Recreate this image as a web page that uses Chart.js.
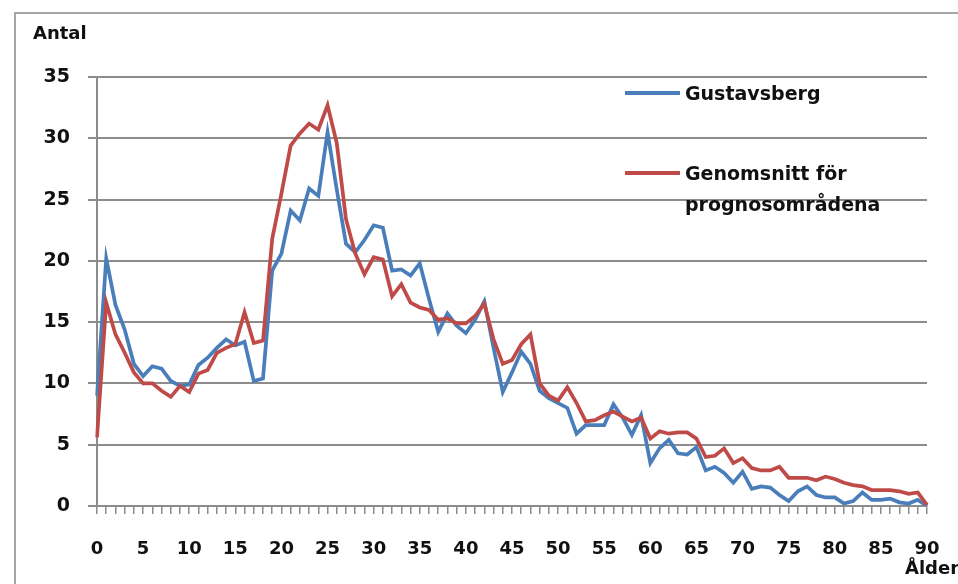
<!DOCTYPE html>
<html>
<head>
<meta charset="utf-8">
<script src="https://cdn.jsdelivr.net/npm/chart.js@4"></script>
<style>
  html, body { margin: 0; padding: 0; background: #fff; overflow: hidden; }
  #wrap { position: relative; width: 958px; height: 584px; overflow: hidden; }
  #frame { position: absolute; left: 14px; top: 12px; width: 960px; height: 600px;
           border-left: 2px solid #a6a6a6; border-top: 2px solid #a6a6a6; }
  canvas { position: absolute; left: 0; top: 0; }
  .txt { position: absolute; font-family: "DejaVu Sans", sans-serif; font-weight: bold; color: #111; white-space: nowrap; }
  #ytitle { left: 33px; top: 22px; font-size: 18px; }
  #xtitle { left: 905px; top: 557px; font-size: 18px; }
  #legend .item { position: absolute; left: 625px; }
  #legend .sw { position: absolute; left: 0; width: 55px; height: 4px; }
  #legend .lb { position: absolute; left: 60px; font-family: "DejaVu Sans", sans-serif; font-weight: bold;
                font-size: 19px; line-height: 31px; color: #111; white-space: nowrap; }
</style>
</head>
<body>
<div id="wrap">
  <div id="frame"></div>
  <canvas id="c" width="958" height="584"></canvas>
  <div class="txt" id="ytitle">Antal</div>
  <div class="txt" id="xtitle">Ålder</div>
  <div id="legend"></div>
</div>
<script>
// ---- data ----
const ages = [];
for (let a = 0; a <= 90; a++) ages.push(String(a));

const gustavsberg = [
  9.0, 20.2, 16.4, 14.4, 11.6, 10.6, 11.4, 11.2, 10.2, 9.8,
  9.9, 11.5, 12.1, 12.9, 13.6, 13.1, 13.4, 10.2, 10.4, 19.2,
  20.6, 24.1, 23.3, 25.9, 25.3, 30.5, 25.8, 21.4, 20.7, 21.7,
  22.9, 22.7, 19.2, 19.3, 18.8, 19.8, 16.9, 14.2, 15.7, 14.7,
  14.1, 15.2, 16.7, 12.9, 9.3, 10.9, 12.6, 11.6, 9.4, 8.8,
  8.4, 8.0, 5.9, 6.6, 6.6, 6.6, 8.3, 7.2, 5.8, 7.4,
  3.5, 4.7, 5.4, 4.3, 4.2, 4.8, 2.9, 3.2, 2.7, 1.9,
  2.8, 1.4, 1.6, 1.5, 0.9, 0.4, 1.2, 1.6, 0.9, 0.7,
  0.7, 0.2, 0.4, 1.1, 0.5, 0.5, 0.6, 0.3, 0.2, 0.5,
  0.0
];

const genomsnitt = [
  5.6, 16.6, 14.0, 12.5, 10.9, 10.0, 10.0, 9.4, 8.9, 9.8,
  9.3, 10.8, 11.1, 12.5, 12.9, 13.2, 15.8, 13.3, 13.5, 21.8,
  25.5, 29.4, 30.4, 31.2, 30.7, 32.7, 29.6, 23.4, 20.6, 18.9,
  20.3, 20.1, 17.1, 18.1, 16.6, 16.2, 16.0, 15.2, 15.3, 14.9,
  14.9, 15.5, 16.5, 13.6, 11.6, 11.9, 13.2, 14.0, 10.0, 9.0,
  8.6, 9.7, 8.4, 6.9, 7.0, 7.4, 7.7, 7.3, 6.9, 7.2,
  5.5, 6.1, 5.9, 6.0, 6.0, 5.5, 4.0, 4.1, 4.7, 3.5,
  3.9, 3.1, 2.9, 2.9, 3.2, 2.3, 2.3, 2.3, 2.1, 2.4,
  2.2, 1.9, 1.7, 1.6, 1.3, 1.3, 1.3, 1.2, 1.0, 1.1,
  0.1
];

const seriesLabels = ['Gustavsberg', 'Genomsnitt för\nprognosområdena'];
const seriesColors = ['#4a7ebb', '#be4b48'];
const yTicks = [0, 5, 10, 15, 20, 25, 30, 35];
// --------------

const axisColor = '#8c8c8c';
const font = { family: 'DejaVu Sans', weight: 'bold', size: 18 };

const chart = new Chart(document.getElementById('c'), {
  type: 'line',
  data: {
    labels: ages,
    datasets: [
      { label: seriesLabels[0], data: gustavsberg, borderColor: seriesColors[0], backgroundColor: seriesColors[0],
        borderWidth: 3.7, pointRadius: 0, tension: 0, order: 1 },
      { label: seriesLabels[1], data: genomsnitt, borderColor: seriesColors[1], backgroundColor: seriesColors[1],
        borderWidth: 3.7, pointRadius: 0, tension: 0, order: 0 }
    ]
  },
  options: {
    responsive: false,
    animation: false,
    devicePixelRatio: 1,
    layout: { padding: { top: 77, right: 0, left: 0, bottom: 0 } },
    plugins: { legend: { display: false }, tooltip: { enabled: false }, title: { display: false } },
    scales: {
      x: {
        type: 'category',
        offset: false,
        grid: { display: true, drawOnChartArea: false, drawTicks: true, tickLength: 8, color: axisColor, lineWidth: 1.5 },
        border: { display: true, color: axisColor, width: 2 },
        ticks: {
          autoSkip: false, maxRotation: 0, minRotation: 0, padding: 25, color: '#111', font: font,
          callback: function (v) { const l = this.getLabelForValue(v); return Number(l) % 5 === 0 ? l : ''; }
        },
        afterFit: function (s) { s.height = 78; s.paddingRight = 31; s.paddingLeft = 0; }
      },
      y: {
        min: 0, max: 35,
        afterBuildTicks: function (s) { s.ticks = yTicks.map(v => ({ value: v })); },
        grid: { color: axisColor, lineWidth: 2, tickLength: 9 },
        border: { display: true, color: axisColor, width: 2 },
        ticks: { padding: 18, color: '#111', font: { family: 'DejaVu Sans', weight: 'bold', size: 19 } },
        afterFit: function (s) { s.width = 97; }
      }
    }
  }
});

// HTML legend built from the chart's datasets
const legend = document.getElementById('legend');
const legendY = [93, 173];
chart.data.datasets.forEach((ds, i) => {
  const item = document.createElement('div');
  item.className = 'item';
  item.style.top = legendY[i] + 'px';
  const sw = document.createElement('div');
  sw.className = 'sw';
  sw.style.background = ds.borderColor;
  sw.style.top = '-2px';
  const lb = document.createElement('div');
  lb.className = 'lb';
  lb.style.top = '-15px';
  lb.innerHTML = ds.label.split('\n').map(s => s.replace(/&/g, '&amp;')).join('<br>');
  item.appendChild(sw);
  item.appendChild(lb);
  legend.appendChild(item);
});
</script>
</body>
</html>
